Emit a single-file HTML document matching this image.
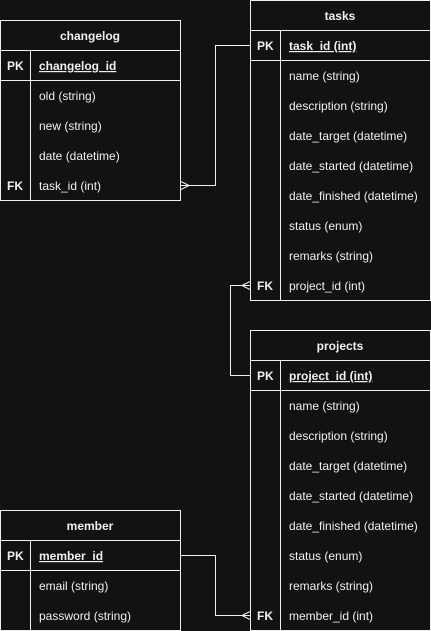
<!DOCTYPE html>
<html><head><style>
html,body{margin:0;padding:0;background:#121212;}
svg{display:block;}
text{font-family:"Liberation Sans",Arial,sans-serif;fill:#f0f0f0;font-size:12px;}
.h{font-weight:bold;text-anchor:middle;}
.k{font-weight:bold;}
.u{font-weight:bold;text-decoration:underline;}
</style></head><body>
<svg width="431" height="631" viewBox="0 0 431 631">
<rect width="431" height="631" fill="#121212"/>
<g fill="none" stroke="#f0f0f0" stroke-width="1">
<!-- changelog -->
<rect x="0.5" y="20.5" width="180" height="180"/>
<line x1="0" y1="50.5" x2="181" y2="50.5"/>
<line x1="0" y1="80.5" x2="181" y2="80.5"/>
<line x1="30.5" y1="50" x2="30.5" y2="200"/>
<!-- tasks -->
<rect x="250.5" y="0.5" width="180" height="300"/>
<line x1="250" y1="30.5" x2="431" y2="30.5"/>
<line x1="250" y1="60.5" x2="431" y2="60.5"/>
<line x1="280.5" y1="30" x2="280.5" y2="300"/>
<!-- projects -->
<rect x="250.5" y="330.5" width="180" height="300"/>
<line x1="250" y1="360.5" x2="431" y2="360.5"/>
<line x1="250" y1="390.5" x2="431" y2="390.5"/>
<line x1="280.5" y1="360" x2="280.5" y2="630"/>
<!-- member -->
<rect x="0.5" y="510.5" width="180" height="120"/>
<line x1="0" y1="540.5" x2="181" y2="540.5"/>
<line x1="0" y1="570.5" x2="181" y2="570.5"/>
<line x1="30.5" y1="540" x2="30.5" y2="630"/>
<!-- connectors -->
<polyline points="181,185.5 215.5,185.5 215.5,45.5 250,45.5"/>
<path d="M189,185.5 L181,181.5 M189,185.5 L181,189.5"/>
<polyline points="250,285.5 230.5,285.5 230.5,375.5 250,375.5"/>
<path d="M242,285.5 L250,281.5 M242,285.5 L250,289.5"/>
<polyline points="181,555.5 215.5,555.5 215.5,615.5 250,615.5"/>
<path d="M242,615.5 L250,611.5 M242,615.5 L250,619.5"/>
</g>
<text class="h" x="90" y="40">changelog</text>
<text class="k" x="7" y="70">PK</text>
<text class="u" x="39" y="70">changelog_id</text>
<text x="39" y="100">old (string)</text>
<text x="39" y="130">new (string)</text>
<text x="39" y="160">date (datetime)</text>
<text class="k" x="7" y="190">FK</text>
<text x="39" y="190">task_id (int)</text>

<text class="h" x="340" y="20">tasks</text>
<text class="k" x="257" y="50">PK</text>
<text class="u" x="289" y="50">task_id (int)</text>
<text x="289" y="80">name (string)</text>
<text x="289" y="110">description (string)</text>
<text x="289" y="140">date_target (datetime)</text>
<text x="289" y="170">date_started (datetime)</text>
<text x="289" y="200">date_finished (datetime)</text>
<text x="289" y="230">status (enum)</text>
<text x="289" y="260">remarks (string)</text>
<text class="k" x="257" y="290">FK</text>
<text x="289" y="290">project_id (int)</text>

<text class="h" x="340" y="350">projects</text>
<text class="k" x="257" y="380">PK</text>
<text class="u" x="289" y="380">project_id (int)</text>
<text x="289" y="410">name (string)</text>
<text x="289" y="440">description (string)</text>
<text x="289" y="470">date_target (datetime)</text>
<text x="289" y="500">date_started (datetime)</text>
<text x="289" y="530">date_finished (datetime)</text>
<text x="289" y="560">status (enum)</text>
<text x="289" y="590">remarks (string)</text>
<text class="k" x="257" y="620">FK</text>
<text x="289" y="620">member_id (int)</text>

<text class="h" x="90" y="530">member</text>
<text class="k" x="7" y="560">PK</text>
<text class="u" x="39" y="560">member_id</text>
<text x="39" y="590">email (string)</text>
<text x="39" y="620">password (string)</text>
</svg>
</body></html>
